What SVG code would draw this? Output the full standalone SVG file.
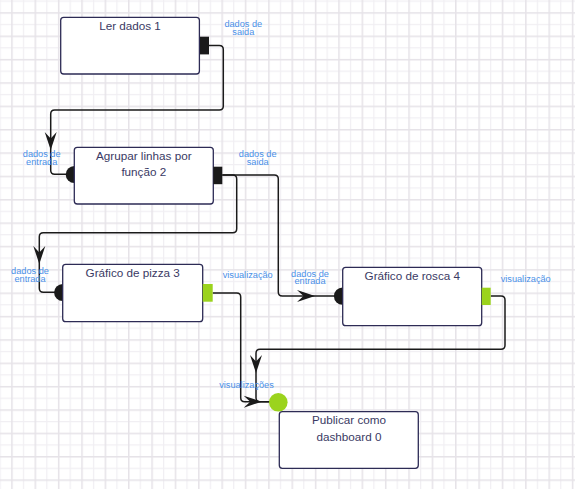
<svg xmlns="http://www.w3.org/2000/svg" width="575" height="489" viewBox="0 0 575 489">
<style>
.node{fill:#fff;stroke:#2d2b55;stroke-width:1.3}
.nt{font-family:"Liberation Sans",Arial,sans-serif;font-size:11.7px;fill:#3a3a64;text-anchor:middle}
.lb{font-family:"Liberation Sans",Arial,sans-serif;font-size:9.2px;fill:#4a90e8;text-anchor:middle}
.conn{fill:none;stroke:#1a1a1a;stroke-width:1.5}
.in{fill:#1a1a1a}
.out{fill:#1a1a1a}
.vis{fill:#9bd31d}
.arr{fill:#1a1a1a}
</style>
<defs>
<pattern id="grid" x="-0.5" y="0.5" width="23.36" height="23.36" patternUnits="userSpaceOnUse">
<rect width="23.36" height="23.36" fill="#fff"/>
<rect x="0" y="0" width="1.2" height="23.36" fill="#f1eff3"/>
<rect x="0" y="0" width="23.36" height="1.2" fill="#f1eff3"/>
<rect x="11.68" y="0" width="1.5" height="23.36" fill="#e6e3e8"/>
<rect x="0" y="11.68" width="23.36" height="1.5" fill="#e6e3e8"/>
</pattern>
<path id="arrow" d="M0,0 L-18,-6 L-11.5,0 L-18,6 Z"/>
</defs>
<rect width="575" height="489" fill="url(#grid)"/>
<g id="connectors">
<path class="conn" d="M209,45.5 H219.3 Q223.3,45.5 223.3,49.5 V106 Q223.3,110 219.3,110 H54.7 Q50.7,110 50.7,114 V170.3 Q50.7,174.3 54.7,174.3 H66"/>
<use href="#arrow" class="arr" transform="translate(50.7,150) rotate(90)"/>
<path class="conn" d="M222.3,175 H232.7 Q236.7,175 236.7,179 V228.7 Q236.7,232.7 232.7,232.7 H43.3 Q39.3,232.7 39.3,236.7 V288.3 Q39.3,292.3 43.3,292.3 H55"/>
<use href="#arrow" class="arr" transform="translate(39.3,264) rotate(90)"/>
<path class="conn" d="M222.3,175 H274.3 Q278.3,175 278.3,179 V292 Q278.3,296 282.3,296 H335"/>
<use href="#arrow" class="arr" transform="translate(315,296)"/>
<path class="conn" d="M212.7,293 H236.7 Q240.7,293 240.7,297 V397.7 Q240.7,401.7 244.7,401.7 H270"/>
<use href="#arrow" class="arr" transform="translate(261.7,401.7)"/>
<path class="conn" d="M490.7,296 H501 Q505,296 505,300 V345.3 Q505,349.3 501,349.3 H260 Q256,349.3 256,353.3 V397.7 Q256,401.7 260,401.7 H270"/>
<use href="#arrow" class="arr" transform="translate(256,373) rotate(90)"/>
</g>
<g id="node1">
<rect class="node" x="60.7" y="17.3" width="138.7" height="56.7" rx="3"/>
<text class="nt" x="130" y="30">Ler dados 1</text>
<rect class="out" x="200" y="36.7" width="9" height="17.7"/>
<text class="lb" x="243.3" y="27.3">dados de</text>
<text class="lb" x="243.3" y="34.6">saida</text>
</g>
<g id="node2">
<circle class="in" cx="74.3" cy="174.5" r="8.6"/>
<rect class="node" x="74.3" y="147.3" width="139" height="56.7" rx="3"/>
<text class="nt" x="143.8" y="159.5">Agrupar linhas por</text>
<text class="nt" x="143.8" y="176.2">função 2</text>
<rect class="out" x="213.3" y="166.7" width="9" height="17.5"/>
<text class="lb" x="41.7" y="157.3">dados de</text>
<text class="lb" x="41.7" y="164.6">entrada</text>
<text class="lb" x="257.7" y="157.3">dados de</text>
<text class="lb" x="257.7" y="164.6">saida</text>
</g>
<g id="node3">
<circle class="in" cx="62.7" cy="292.5" r="8.6"/>
<rect class="node" x="62.7" y="264.3" width="140" height="57.4" rx="3"/>
<text class="nt" x="132.7" y="276.8">Gráfico de pizza 3</text>
<rect class="vis" x="202.7" y="284" width="10" height="17.7"/>
<text class="lb" x="30" y="274.3">dados de</text>
<text class="lb" x="30" y="281.6">entrada</text>
<text class="lb" x="247.7" y="277.8">visualização</text>
</g>
<g id="node4">
<circle class="in" cx="342.5" cy="296.2" r="8.6"/>
<rect class="node" x="342.7" y="267.3" width="139" height="58.4" rx="3"/>
<text class="nt" x="412.3" y="280">Gráfico de rosca 4</text>
<rect class="vis" x="481.7" y="287.7" width="9" height="17.3"/>
<text class="lb" x="310" y="276.6">dados de</text>
<text class="lb" x="310" y="283.9">entrada</text>
<text class="lb" x="525.7" y="281.8">visualização</text>
</g>
<g id="node0">
<rect class="node" x="279.3" y="411.7" width="139" height="56.6" rx="3"/>
<text class="nt" x="349" y="424.2">Publicar como</text>
<text class="nt" x="349" y="440.8">dashboard 0</text>
<circle class="vis" cx="278.3" cy="402.3" r="9.3"/>
<text class="lb" x="246.5" y="387.5">visualizações</text>
</g>
</svg>
